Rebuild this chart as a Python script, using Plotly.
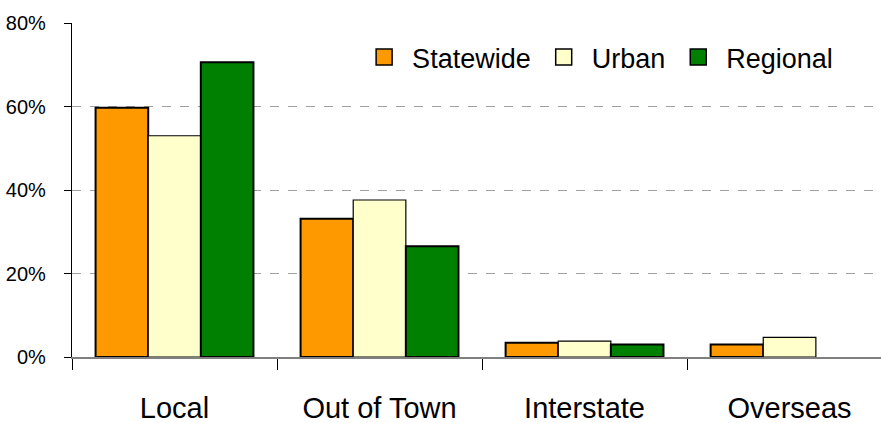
import plotly.graph_objects as go

categories = ["Local", "Out of Town", "Interstate", "Overseas"]
statewide = [59.7, 33.1, 3.4, 3.0]
urban = [53.0, 37.6, 3.8, 4.7]
regional = [70.6, 26.5, 3.0, None]
series_names = ["Statewide", "Urban", "Regional"]
y_ticks = [0, 20, 40, 60, 80]
y_tick_labels = ["0%", "20%", "40%", "60%", "80%"]

colors = ["#FF9900", "#FFFFCC", "#008000"]
line_w = [2, 1.2, 2]
FONT = "Liberation Sans, Arial, sans-serif"

fig = go.Figure()
for name, vals, c, lw in zip(series_names, [statewide, urban, regional], colors, line_w):
    fig.add_trace(go.Bar(x=categories, y=vals, name=name, marker=dict(color=c, line=dict(color="black", width=lw)),
                         showlegend=False))
for name, c in zip(series_names, colors):
    fig.add_trace(go.Scatter(x=[None], y=[None], mode="markers", name=name,
                             marker=dict(symbol="square", size=16, color=c, line=dict(color="black", width=1.5))))

fig.update_layout(
    width=881, height=423,
    margin=dict(l=72, r=0, t=23, b=66),
    paper_bgcolor="white", plot_bgcolor="white",
    barmode="group", bargap=0.23, bargroupgap=0,
    font=dict(family=FONT, color="black"),
    legend=dict(orientation="h", x=0.947, xanchor="right", y=0.97, yanchor="top",
                font=dict(size=27, family=FONT), itemwidth=46, tracegroupgap=0,
                bgcolor="rgba(0,0,0,0)"),
)
fig.update_xaxes(range=[-0.5, 3.446], tickson="boundaries", ticks="outside", ticklen=11,
                 tickcolor="black", showline=True, linecolor="#808080", linewidth=1.5,
                 tickfont=dict(size=29, family=FONT), ticklabelstandoff=24, showgrid=False,
                 automargin=False)
fig.update_yaxes(range=[0, 80], tickvals=y_ticks, ticktext=y_tick_labels, ticks="outside", ticklen=7,
                 tickcolor="black", showline=True, linecolor="black", linewidth=1.2,
                 showgrid=True, gridcolor="#A0A0A0", griddash="dash", gridwidth=1,
                 tickfont=dict(size=20, family=FONT), ticklabelstandoff=14, zeroline=False,
                 automargin=False)

fig.write_html("out.html", post_script="document.body.style.margin='0';",
               config={"displayModeBar": False})
